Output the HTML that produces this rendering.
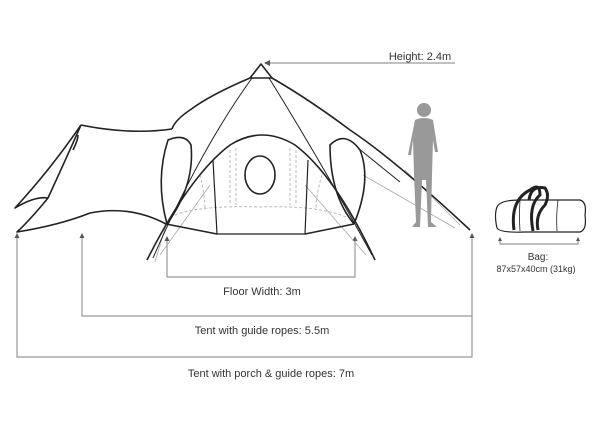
<!DOCTYPE html>
<html><head><style>
html,body{margin:0;padding:0;background:#fff;width:600px;height:426px;overflow:hidden}
svg{display:block}
text{font-family:"Liberation Sans",sans-serif;fill:#333}
</style></head><body>
<svg width="600" height="426" viewBox="0 0 600 426">
<defs><marker id="a" markerWidth="6" markerHeight="6" refX="3" refY="3" orient="auto"><path d="M0,0 L6,3 L0,6 z" fill="#555"/></marker></defs>
<!-- dimension lines -->
<g stroke="#999" stroke-width="1.2" fill="none">
<path d="M268,63 L455,63"/>
<path d="M167,240 V277 H355 V240"/>
<path d="M82,237 V316 H472 V237"/>
<path d="M17,237 V357 H472 V316"/>
<path d="M500,240 V244 H578 V240"/>
</g>
<g fill="#555">
<path d="M264,63 l6,-3 v6z"/>
<path d="M167,236 l-2.5,5 h5z"/><path d="M355,236 l-2.5,5 h5z"/>
<path d="M82,233 l-2.5,5 h5z"/><path d="M472,233 l-2.5,5 h5z"/>
<path d="M17,233 l-2.5,5 h5z"/>
<path d="M500,237 l-2,4 h4z"/><path d="M578,237 l-2,4 h4z"/>
</g>
<text x="420" y="60" font-size="11" text-anchor="middle">Height: 2.4m</text>
<text x="262" y="295" font-size="11" text-anchor="middle">Floor Width: 3m</text>
<text x="262" y="334" font-size="11" text-anchor="middle">Tent with guide ropes: 5.5m</text>
<text x="271" y="377" font-size="11" text-anchor="middle">Tent with porch &amp; guide ropes: 7m</text>
<text x="538" y="260" font-size="10" text-anchor="middle">Bag:</text>
<text x="536" y="272" font-size="9" text-anchor="middle">87x57x40cm (31kg)</text>
<!-- light guide ropes -->
<g stroke="#aaa" stroke-width="0.8" fill="none">
<path d="M166,225 L155,262"/><path d="M210,185 L160,255"/>
<path d="M305,185 L366,255"/><path d="M363,175 L455,228"/>
<path d="M405,170 L460,225"/>
</g>
<!-- dashed inner -->
<g stroke="#bbb" stroke-width="1" fill="none" stroke-dasharray="3,2">
<path d="M175,215 Q200,205 260,207 Q320,205 348,218"/>
<path d="M230,150 V205"/><path d="M236,148 V205"/>
<path d="M290,148 V205"/><path d="M296,150 V205"/>
<path d="M200,175 Q205,195 205,210"/><path d="M322,175 Q316,195 316,210"/>
</g>
<!-- tent -->
<g stroke="#222" stroke-width="1.6" fill="none" stroke-linejoin="round">
<path d="M250,78 L261,64 L272,78 Z"/>
<!-- porch -->
<path d="M81,125 Q130,135 172,129"/>
<path d="M81,125 Q50,170 15,208 Q35,196 48,198"/>
<path d="M81,125 Q70,150 48,198 Q30,220 17,232 Q60,225 90,213 Q130,205 166,224"/>
<path d="M73,150 Q78,140 78,135"/>
<!-- main ridge -->
<path d="M250,78 Q210,95 190,110 Q175,120 172,129"/>
<path d="M272,78 Q310,100 350,130 Q395,160 470,230"/>
<path d="M358,148 L400,182" stroke-width="1"/>
<!-- side loops -->
<path d="M167,224 Q155,180 168,140 Q185,133 191,145 Q195,185 167,224"/>
<path d="M354,224 Q372,180 360,150 Q345,130 330,145 Q330,195 354,224"/>
<!-- dome arc / poles -->
<path d="M147,260 Q190,175 230,145 Q262,125 295,145 Q335,175 375,260"/>
<path d="M153,258 Q200,150 252,78" stroke-width="1"/>
<path d="M269,78 Q320,160 372,255" stroke-width="1"/>
<!-- door panel and floor -->
<path d="M213,160 L217,234 L305,234 L308,160" stroke-width="1.2"/>
<path d="M166,224 L217,234 M305,234 L354,224"/>
<ellipse cx="260" cy="175" rx="15" ry="19"/>
</g>
<!-- person -->
<g fill="#999">
<circle cx="424" cy="110" r="7"/>
<path d="M415,120 Q424,116 433,120 L438,152 L435,152 L433,140 L432,175 L431,222 L437,227 L428,227 L426,180 L422,180 L420,227 L412,227 L416,222 L414,175 L413,140 L411,155 L408,155 Z"/>
</g>
<!-- bag -->
<g stroke="#222" fill="none">
<path d="M497,207 Q500,200 520,200 L580,200 Q587,202 585,215 Q587,230 580,232 L525,232 Q500,233 497,228 Q494,215 497,207 Z" stroke-width="1.2"/>
<path d="M520,200 Q519,215 520,231 M558,200 Q556,215 557,231" stroke-width="0.8"/>
<path d="M514,230 Q510,200 530,190 Q540,182 540,195 Q528,205 533,231" stroke-width="3"/>
<path d="M529,200 Q531,185 545,188 Q550,195 545,205 Q535,215 538,230" stroke-width="3"/>
</g>
</svg>
</body></html>
